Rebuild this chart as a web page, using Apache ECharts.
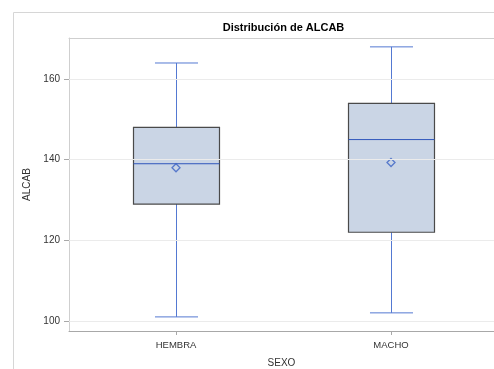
<!DOCTYPE html>
<html>
<head>
<meta charset="utf-8">
<script src="https://cdn.jsdelivr.net/npm/echarts@6/dist/echarts.min.js"></script>
<style>
  html, body { margin: 0; padding: 0; background: #ffffff; }
  #chart { width: 494px; height: 369px; }
</style>
</head>
<body>
<div id="chart"></div>
<script>
// Grupos y resumen de cinco números de ALCAB por SEXO
const categories = ['HEMBRA', 'MACHO'];
const whiskerLow = [101, 102];
const q1Values = [129, 122];
const medianValues = [139, 145];
const q3Values = [148, 154];
const whiskerHigh = [164, 168];
const meanValues = [138, 139.3];
const yTicks = [100, 120, 140, 160];
const xTicks = categories.map((c, i) => i);

const boxData = categories.map((c, i) =>
  [i, whiskerLow[i], q1Values[i], medianValues[i], q3Values[i], whiskerHigh[i]]);
const meanData = categories.map((c, i) => [i, meanValues[i]]);

const FONT = '"Liberation Sans", Arial, sans-serif';
const WHISKER = '#5479d2';
const MEDIAN = '#2f56bb';
const FILL = '#cad5e5';
const OUTLINE = '#4a4a4a';
const FRAME = '#cfcfcf';

// Horizontal extent: each group occupies one unit; the plot continues past the right edge.
const X_MIN = -0.4977;
const X_MAX = 1.479;

function renderBox(params, api) {
  const x = api.value(0);
  const unit = api.size([1, 0])[0];
  const boxW = unit * 0.4;
  const capW = unit * 0.2;
  const pLow = api.coord([x, api.value(1)]);
  const pQ1 = api.coord([x, api.value(2)]);
  const pMed = api.coord([x, api.value(3)]);
  const pQ3 = api.coord([x, api.value(4)]);
  const pHigh = api.coord([x, api.value(5)]);
  const cx = Math.round(pLow[0]) + 0.5;
  const lineStyle = { stroke: WHISKER, lineWidth: 1 };
  return {
    type: 'group',
    children: [
      { type: 'line', shape: { x1: cx, y1: pQ3[1], x2: cx, y2: pHigh[1] }, style: lineStyle },
      { type: 'line', shape: { x1: cx, y1: pQ1[1], x2: cx, y2: pLow[1] }, style: lineStyle },
      { type: 'line', shape: { x1: cx - capW / 2, y1: pHigh[1], x2: cx + capW / 2, y2: pHigh[1] }, style: lineStyle },
      { type: 'line', shape: { x1: cx - capW / 2, y1: pLow[1], x2: cx + capW / 2, y2: pLow[1] }, style: lineStyle },
      {
        type: 'rect',
        shape: { x: cx - boxW / 2, y: pQ3[1], width: boxW, height: pQ1[1] - pQ3[1] },
        style: { fill: FILL, stroke: OUTLINE, lineWidth: 1.2 }
      },
      {
        type: 'line',
        shape: { x1: cx - boxW / 2, y1: pMed[1], x2: cx + boxW / 2, y2: pMed[1] },
        style: { stroke: MEDIAN, lineWidth: 1 }
      }
    ]
  };
}

const chart = echarts.init(document.getElementById('chart'), null, { renderer: 'canvas' });
chart.setOption({
  animation: false,
  backgroundColor: '#ffffff',
  graphic: [
    {
      type: 'rect',
      shape: { x: 13.5, y: 12.5, width: 520, height: 420 },
      style: { fill: 'none', stroke: '#d6d6d6', lineWidth: 1 },
      z: 0
    },
    {
      type: 'text',
      x: 283.5, y: 27.5,
      style: {
        text: 'Distribución de ALCAB',
        textAlign: 'center', textVerticalAlign: 'middle',
        font: 'bold 11px ' + FONT, fill: '#000000'
      },
      z: 10
    }
  ],
  grid: {
    left: 69, top: 38, right: 0, height: 293,
    show: false,
    containLabel: false,
    outerBoundsMode: 'none'
  },
  xAxis: [
    {
      type: 'value',
      min: X_MIN, max: X_MAX,
      position: 'bottom',
      name: 'SEXO',
      nameLocation: 'middle',
      nameGap: 27,
      nameTextStyle: { fontFamily: FONT, fontSize: 10, color: '#333333' },
      axisLine: { show: true, onZero: false, lineStyle: { color: '#a8a8a8' } },
      axisTick: { show: true, customValues: xTicks, length: 4, lineStyle: { color: '#a8a8a8' } },
      axisLabel: {
        customValues: xTicks,
        formatter: v => categories[Math.round(v)] || '',
        fontFamily: FONT, fontSize: 9.5, color: '#333333', margin: 9
      },
      splitLine: { show: false }
    },
    {
      type: 'value',
      min: X_MIN, max: X_MAX,
      position: 'top',
      axisLine: { show: true, onZero: false, lineStyle: { color: FRAME } },
      axisTick: { show: false },
      axisLabel: { show: false },
      splitLine: { show: false }
    }
  ],
  yAxis: {
    type: 'value',
    min: 97.5, max: 170.2,
    name: 'ALCAB',
    nameLocation: 'middle',
    nameGap: 36,
    nameTextStyle: { fontFamily: FONT, fontSize: 10, color: '#333333' },
    axisLine: { show: true, onZero: false, lineStyle: { color: FRAME } },
    axisTick: { show: true, customValues: yTicks, length: 5, lineStyle: { color: '#a8a8a8' } },
    axisLabel: { customValues: yTicks, fontFamily: FONT, fontSize: 10, color: '#333333', margin: 9 },
    splitLine: { show: false }
  },
  series: [
    {
      type: 'line',
      data: [],
      z: 1,
      silent: true,
      markLine: {
        silent: true,
        symbol: 'none',
        label: { show: false },
        lineStyle: { color: '#ebebeb', type: 'solid', width: 1 },
        data: yTicks.map(v => ({ yAxis: v }))
      }
    },
    {
      type: 'custom',
      z: 3,
      renderItem: renderBox,
      encode: { x: 0, y: [1, 2, 3, 4, 5] },
      data: boxData
    },
    {
      type: 'scatter',
      z: 4,
      symbol: 'diamond',
      symbolSize: [8, 8],
      itemStyle: { color: 'rgba(0,0,0,0)', borderColor: '#3a62c4', borderWidth: 1.3 },
      data: meanData
    }
  ]
});
</script>
</body>
</html>
